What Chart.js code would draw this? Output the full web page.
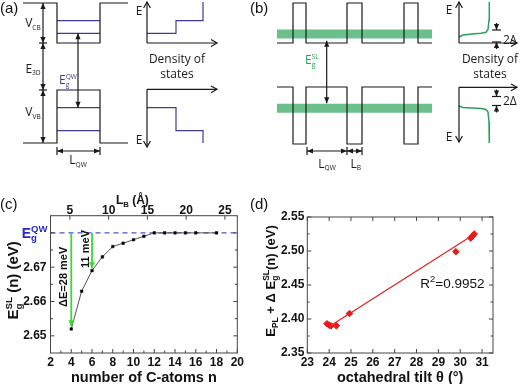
<!DOCTYPE html>
<html>
<head>
<meta charset="utf-8">
<script src="https://cdn.jsdelivr.net/npm/chart.js@4.4.0/dist/chart.umd.min.js"></script>
<style>
html, body { margin: 0; padding: 0; background: #fff; }
#wrap { position: relative; width: 520px; height: 384px; overflow: hidden; }
canvas { position: absolute; }
.lbl { position: absolute; font: 15px "Liberation Sans", Arial, sans-serif; color: #111; z-index: 2; line-height: 16px; }
</style>
</head>
<body>
<div id="wrap">
  <canvas id="schem" width="520" height="190" style="left:0;top:0"></canvas>
  <canvas id="chartC" width="260" height="194" style="left:0;top:190px"></canvas>
  <canvas id="chartD" width="260" height="194" style="left:260px;top:190px"></canvas>
  <div class="lbl" style="left:0;top:0">(a)</div>
  <div class="lbl" style="left:250px;top:0">(b)</div>
  <div class="lbl" style="left:0;top:196px">(c)</div>
  <div class="lbl" style="left:250px;top:196px">(d)</div>
</div>
<script>
// panel (c)
const nAtoms = [4, 5, 6, 7, 8, 9, 10, 11, 12, 13, 14, 15, 16, 18];
const egSL = [2.652, 2.663, 2.669, 2.673, 2.676, 2.677, 2.678, 2.679, 2.680, 2.680, 2.680, 2.680, 2.680, 2.680];
const egQW = 2.680;
const deltaArrows = [[4, 2.6528, 'ΔE=28 meV', 3.25, 2.6672], [6, 2.6697, '11 meV', 5.3, 2.6753]];
const nTicks = [2, 4, 6, 8, 10, 12, 14, 16, 18, 20];
const nMinor = [3, 5, 7, 9, 11, 13, 15, 17, 19];
const lbTicks = [5, 10, 15, 20, 25];
const eTicks = [2.65, 2.66, 2.67];
const eAllTicks = [2.65, 2.66, 2.67, 2.68];

// panel (d)
const tilt = [23.9, 24.0, 24.08, 24.33, 24.93, 29.8, 30.48, 30.57, 30.64];
const ePL = [2.393, 2.391, 2.390, 2.390, 2.408, 2.499, 2.519, 2.522, 2.525];
const fitX = [24.15, 30.66];
const fitY = [2.392, 2.525];
const tiltTicks = [23, 24, 25, 26, 27, 28, 29, 30, 31];
const eplTicks = [2.35, 2.40, 2.45, 2.50, 2.55];

// panels (a) and (b): schematic in picture units
const schemBlack = [
  [[23, 3], [57, 3], [57, 43], [100, 43], [100, 3], [128, 3]],
  [[23, 143], [57, 143], [57, 90], [100, 90], [100, 143], [128, 143]],
  [[39, 43], [47, 43]], [[39, 90], [47, 90]],
  [[57, 147], [57, 155]], [[100, 147], [100, 155]],
  [[277, 43], [293, 43], [293, 3], [306, 3], [306, 43], [347, 43], [347, 3], [362, 3], [362, 43], [404, 43], [404, 3], [418, 3], [418, 43], [432, 43]],
  [[277, 87], [293, 87], [293, 144], [306, 144], [306, 87], [347, 87], [347, 144], [362, 144], [362, 87], [404, 87], [404, 144], [418, 144], [418, 87], [432, 87]],
  [[307, 147], [307, 155]], [[347, 147], [347, 155]], [[362, 147], [362, 155]],
  [[492, 30], [501, 30]], [[492, 42], [501, 42]],
  [[492, 96.5], [501, 96.5]], [[492, 105.5], [501, 105.5]]
];
const schemBlue = [
  [[57, 20.7], [100, 20.7]], [[57, 33.3], [100, 33.3]],
  [[57, 107.7], [100, 107.7]], [[57, 130.7], [100, 130.7]],
  [[147, 33.3], [176, 33.3], [176, 20.7], [203, 20.7], [203, 2]],
  [[147, 107.7], [176, 107.7], [176, 130.7], [203, 130.7], [203, 143]]
];
const schemGreen = [
  [[459, 37], [463, 35], [472, 34], [481, 33.3], [486, 32.3], [488, 29.5], [489, 20], [489.3, 2]],
  [[459, 106], [463, 107.5], [472, 108], [481, 108.5], [486, 109.5], [488, 112], [489, 122], [489.3, 143]]
];
const schemBands = [[277, 432, 34], [277, 432, 108.3]];
// x1, y1, x2, y2, heads, style
const schemArrows = [
  [43, 3, 43, 43, 2], [43, 43, 43, 90, 2], [43, 90, 43, 143, 2],
  [78, 33.3, 78, 107.7, 2],
  [57, 151, 100, 151, 2],
  [147, 43, 147, 2, 1, 'open'], [147, 43, 217, 43, 1, 'open'],
  [147, 89.3, 217, 89.3, 1, 'open'], [147, 89.3, 147, 147, 1, 'open'],
  [326.7, 40.7, 326.7, 103.3, 2],
  [307, 151, 347, 151, 2], [347, 151, 362, 151, 2],
  [459, 43, 459, 2, 1, 'open'], [459, 43, 517, 43, 1, 'open'],
  [459, 87.3, 517, 87.3, 1, 'open'], [459, 87.3, 459, 142, 1, 'open'],
  [496.5, 23, 496.5, 30, 1], [496.5, 49, 496.5, 42, 1],
  [496.5, 89.5, 496.5, 96.5, 1], [496.5, 112.5, 496.5, 105.5, 1]
];
const BLUE = 'rgb(60,60,150)';
const GREEN = 'rgb(40,160,90)';
const schemTexts = [
  { p: [['V', 0], ['CB', 1]], x: 33, y: 22.7 },
  { p: [['E', 0], ['3D', 1]], x: 33, y: 68.3 },
  { p: [['V', 0], ['VB', 1]], x: 33, y: 111.7 },
  { p: [['E', 0], ['g', 3, 'QW']], x: 59, y: 80, a: 'left', c: BLUE },
  { p: [['L', 0], ['QW', 1]], x: 78, y: 160 },
  { p: [['E', 0]], x: 139, y: 11 },
  { p: [['E', 0]], x: 139, y: 140 },
  { p: [['Density of', 0]], x: 177, y: 59 },
  { p: [['states', 0]], x: 177, y: 74 },
  { p: [['E', 0], ['g', 3, 'SL']], x: 305, y: 60, a: 'left', c: GREEN },
  { p: [['L', 0], ['QW', 1]], x: 327, y: 163.5 },
  { p: [['L', 0], ['B', 1]], x: 355.7, y: 163.5 },
  { p: [['E', 0]], x: 449, y: 10 },
  { p: [['E', 0]], x: 449, y: 137 },
  { p: [['Density of', 0]], x: 490, y: 59 },
  { p: [['states', 0]], x: 490, y: 74 },
  { p: [['2Δ', 0]], x: 503, y: 40, a: 'left' },
  { p: [['2Δ', 0]], x: 503, y: 101, a: 'left' }
];

const FONT = '"Liberation Sans", Arial, sans-serif';
const SFONT = '"Open Sans", "Noto Sans", sans-serif';

// text with subscripts / superscripts; kind 0 normal, 1 sub, 2 sup, 3 sub+sup stacked
function drawRich(ctx, parts, x, y, o) {
  const size = o.size;
  const small = size * (o.ratio || 0.62);
  const wt = o.bold ? 'bold ' : '';
  const f = s => wt + s + 'px ' + o.family;
  const ws = [];
  let w = 0;
  parts.forEach(p => {
    let pw;
    if (p[1] === 0) { ctx.font = f(size); pw = ctx.measureText(p[0]).width; }
    else if (p[1] === 3) { ctx.font = f(small); pw = Math.max(ctx.measureText(p[0]).width, ctx.measureText(p[2]).width); }
    else { ctx.font = f(small); pw = ctx.measureText(p[0]).width; }
    ws.push(pw);
    w += pw;
  });
  ctx.save();
  ctx.translate(x, y);
  if (o.rot) ctx.rotate(o.rot);
  ctx.fillStyle = o.color;
  ctx.textAlign = 'left';
  ctx.textBaseline = 'alphabetic';
  let cx = o.align === 'left' ? 0 : o.align === 'right' ? -w : -w / 2;
  const base = size * 0.36;
  parts.forEach((p, i) => {
    if (p[1] === 0) { ctx.font = f(size); ctx.fillText(p[0], cx, base); }
    else if (p[1] === 1) { ctx.font = f(small); ctx.fillText(p[0], cx, base + size * 0.22); }
    else if (p[1] === 2) { ctx.font = f(small); ctx.fillText(p[0], cx, base - size * 0.42); }
    else {
      ctx.font = f(small);
      ctx.fillText(p[0], cx, base + size * 0.22);
      ctx.fillText(p[2], cx, base - size * 0.45);
    }
    cx += ws[i];
  });
  ctx.restore();
}

function drawArrow(ctx, x1, y1, x2, y2, both, open, color, lw, len, hw) {
  len = len || 6; hw = hw || 2.6;
  ctx.save();
  ctx.strokeStyle = color; ctx.fillStyle = color; ctx.lineWidth = lw;
  ctx.beginPath(); ctx.moveTo(x1, y1); ctx.lineTo(x2, y2); ctx.stroke();
  const head = (px, py, a) => {
    const bx = px - len * Math.cos(a), by = py - len * Math.sin(a);
    const h = open ? hw + 0.8 : hw;
    const lx = bx + h * Math.sin(a), ly = by - h * Math.cos(a);
    const rx = bx - h * Math.sin(a), ry = by + h * Math.cos(a);
    ctx.beginPath();
    if (open) { ctx.moveTo(lx, ly); ctx.lineTo(px, py); ctx.lineTo(rx, ry); ctx.stroke(); }
    else { ctx.moveTo(px, py); ctx.lineTo(lx, ly); ctx.lineTo(rx, ry); ctx.closePath(); ctx.fill(); }
  };
  const ang = Math.atan2(y2 - y1, x2 - x1);
  head(x2, y2, ang);
  if (both) head(x1, y1, ang + Math.PI);
  ctx.restore();
}

// ---------- schematic (a) + (b)
const lineSet = (pts, color, width) => ({
  data: pts.map(p => ({ x: p[0], y: p[1] })),
  showLine: true, borderColor: color, borderWidth: width,
  pointRadius: 0, tension: 0, clip: false
});
const schemSets = [];
schemBlack.forEach(s => schemSets.push(lineSet(s, '#1a1a1a', 1.2)));
schemBlue.forEach(s => schemSets.push(lineSet(s, BLUE, 1.2)));
schemGreen.forEach(s => schemSets.push(lineSet(s, GREEN, 1.5)));
schemBands.forEach(b => {
  const ds = lineSet([[b[0], b[2]], [b[1], b[2]]], 'rgba(70,175,110,0.8)', 9);
  ds.borderCapStyle = 'butt';
  schemSets.push(ds);
});

const schemNotes = {
  id: 'schemNotes',
  afterDatasetsDraw(chart) {
    const { ctx, scales: { x, y } } = chart;
    const P = (a, b) => [x.getPixelForValue(a), y.getPixelForValue(b)];
    schemArrows.forEach(a => {
      const [x1, y1] = P(a[0], a[1]);
      const [x2, y2] = P(a[2], a[3]);
      drawArrow(ctx, x1, y1, x2, y2, a[4] === 2, a[5] === 'open', '#1a1a1a', 1.2);
    });
    schemTexts.forEach(t => {
      const [px, py] = P(t.x, t.y);
      drawRich(ctx, t.p, px, py, { size: 12, ratio: 0.55, family: SFONT, color: t.c || '#1a1a1a', align: t.a || 'center' });
    });
  }
};

new Chart(document.getElementById('schem'), {
  type: 'scatter',
  data: { datasets: schemSets },
  options: {
    responsive: false, animation: false,
    layout: { padding: 0 },
    plugins: { legend: { display: false }, tooltip: { enabled: false } },
    scales: {
      x: { type: 'linear', min: 0, max: 520, display: false },
      y: { type: 'linear', min: 0, max: 190, reverse: true, display: false }
    }
  },
  plugins: [schemNotes]
});

// ---------- frame with inward ticks
function framePlugin(sides) {
  return {
    id: 'frame',
    afterDatasetsDraw(chart) {
      const { ctx, chartArea: a } = chart;
      ctx.save();
      ctx.strokeStyle = '#444';
      ctx.lineWidth = 1;
      ctx.strokeRect(a.left, a.top, a.right - a.left, a.bottom - a.top);
      sides.forEach(sd => {
        const sc = chart.scales[sd.scale];
        const draw = (v, len) => {
          const p = sc.getPixelForValue(v);
          ctx.beginPath();
          if (sd.edge === 'bottom') { ctx.moveTo(p, a.bottom); ctx.lineTo(p, a.bottom - len); }
          if (sd.edge === 'top') { ctx.moveTo(p, a.top); ctx.lineTo(p, a.top + len); }
          if (sd.edge === 'left') { ctx.moveTo(a.left, p); ctx.lineTo(a.left + len, p); }
          if (sd.edge === 'right') { ctx.moveTo(a.right, p); ctx.lineTo(a.right - len, p); }
          ctx.stroke();
        };
        sd.major.forEach(v => draw(v, 4));
        (sd.minor || []).forEach(v => draw(v, 2.5));
      });
      ctx.restore();
    }
  };
}
const mids = arr => arr.slice(1).map((v, i) => (v + arr[i]) / 2);

const tickFont = { family: FONT, size: 12, weight: 'bold' };
const axisBase = (extra) => Object.assign({
  type: 'linear',
  grid: { display: false, drawTicks: false },
  border: { display: false },
}, extra);

// ---------- chart (c)
const notesC = {
  id: 'notesC',
  afterDatasetsDraw(chart) {
    const { ctx, chartArea: a, scales: { x, y } } = chart;
    deltaArrows.forEach(d => {
      drawArrow(ctx, x.getPixelForValue(d[0]), y.getPixelForValue(egQW),
        x.getPixelForValue(d[0]), y.getPixelForValue(d[1]), false, false, '#33dd33', 1.8, 6, 3);
      drawRich(ctx, [[d[2], 0]], x.getPixelForValue(d[3]), y.getPixelForValue(d[4]),
        { size: 11, family: FONT, bold: true, color: '#111', rot: -Math.PI / 2 });
    });
    drawRich(ctx, [['E', 0], ['g', 3, 'QW']], a.left - 3, y.getPixelForValue(egQW),
      { size: 14, ratio: 0.68, family: FONT, bold: true, color: 'rgb(40,40,200)', align: 'right' });
    drawRich(ctx, [['E', 0], ['g', 3, 'SL'], [' (n) (eV)', 0]], 13, (a.top + a.bottom) / 2 - 4,
      { size: 15, ratio: 0.65, family: FONT, bold: true, color: '#111', rot: -Math.PI / 2 });
    drawRich(ctx, [['L', 0], ['B', 1], [' (Å)', 0]], x.getPixelForValue(8.3), 10,
      { size: 12, ratio: 0.65, family: FONT, bold: true, color: '#111', align: 'left' });
  }
};

new Chart(document.getElementById('chartC'), {
  type: 'scatter',
  data: {
    datasets: [
      {
        data: nAtoms.map((n, i) => ({ x: n, y: egSL[i] })),
        showLine: true, borderColor: '#555', borderWidth: 1,
        pointStyle: 'rect', pointRadius: 1.8,
        pointBackgroundColor: '#000', pointBorderColor: '#000', pointBorderWidth: 0.5,
        order: 1
      },
      {
        data: [{ x: nTicks[0], y: egQW }, { x: nTicks[nTicks.length - 1], y: egQW }],
        showLine: true, borderColor: 'rgb(80,80,210)', borderWidth: 1.2, borderDash: [5, 4],
        pointRadius: 0, order: 2
      }
    ]
  },
  options: {
    responsive: false, animation: false,
    layout: { padding: { left: 0, right: 22.7, top: 0, bottom: 0 } },
    plugins: { legend: { display: false }, tooltip: { enabled: false } },
    scales: {
      x: axisBase({
        position: 'bottom', min: 2, max: 20,
        afterBuildTicks: s => { s.ticks = nTicks.map(v => ({ value: v })); },
        afterFit: s => { s.height = 31; },
        ticks: { padding: 2, color: '#111', font: tickFont, autoSkip: false, maxRotation: 0 },
        title: { display: true, text: 'number of C-atoms n', color: '#111', font: { family: FONT, size: 14.5, weight: 'bold' }, padding: { top: 0, bottom: -3 } }
      }),
      x2: axisBase({
        position: 'top', min: 2.5, max: 26.6,
        afterBuildTicks: s => { s.ticks = lbTicks.map(v => ({ value: v })); },
        afterFit: s => { s.height = 25.7; },
        ticks: { padding: -2.5, color: '#111', font: tickFont, autoSkip: false, maxRotation: 0 }
      }),
      y: axisBase({
        position: 'left', min: 2.645, max: 2.685,
        afterBuildTicks: s => { s.ticks = eTicks.map(v => ({ value: v })); },
        afterFit: s => { s.width = 50.5; },
        ticks: { padding: 4, color: '#111', font: tickFont, autoSkip: false, callback: v => v.toFixed(2) }
      })
    }
  },
  plugins: [framePlugin([
    { edge: 'bottom', scale: 'x', major: nTicks, minor: nMinor },
    { edge: 'top', scale: 'x2', major: lbTicks },
    { edge: 'left', scale: 'y', major: eAllTicks, minor: mids(eAllTicks) },
    { edge: 'right', scale: 'y', major: eAllTicks, minor: mids(eAllTicks) }
  ]), notesC]
});

// ---------- chart (d)
const notesD = {
  id: 'notesD',
  afterDatasetsDraw(chart) {
    const { ctx, chartArea: a, scales: { x, y } } = chart;
    drawRich(ctx, [['R', 0], ['2', 2], ['=0.9952', 0]], x.getPixelForValue(28.17), y.getPixelForValue(2.4525),
      { size: 13.5, ratio: 0.7, family: FONT, color: '#111', align: 'left' });
    drawRich(ctx, [['E', 0], ['PL', 1], [' + Δ ', 0], ['E', 0], ['g', 3, 'SL'], ['(n) (eV)', 0]], 10, (a.top + a.bottom) / 2 - 4,
      { size: 13, ratio: 0.65, family: FONT, bold: true, color: '#111', rot: -Math.PI / 2 });
  }
};

new Chart(document.getElementById('chartD'), {
  type: 'scatter',
  data: {
    datasets: [
      {
        data: tilt.map((t, i) => ({ x: t, y: ePL[i] })),
        pointStyle: 'rectRot', pointRadius: 3.3,
        pointBackgroundColor: 'rgb(235,25,25)', pointBorderColor: 'rgb(235,25,25)',
        order: 1
      },
      {
        data: fitX.map((t, i) => ({ x: t, y: fitY[i] })),
        showLine: true, borderColor: 'rgb(230,30,30)', borderWidth: 1.2,
        pointRadius: 0, order: 2
      }
    ]
  },
  options: {
    responsive: false, animation: false,
    layout: { padding: { left: 0, right: 27, top: 27, bottom: 0 } },
    plugins: { legend: { display: false }, tooltip: { enabled: false } },
    scales: {
      x: axisBase({
        position: 'bottom', min: 23, max: 31.5,
        afterBuildTicks: s => { s.ticks = tiltTicks.map(v => ({ value: v })); },
        afterFit: s => { s.height = 31; },
        ticks: { padding: 2, color: '#111', font: tickFont, autoSkip: false, maxRotation: 0 },
        title: { display: true, text: 'octahedral tilt θ (°)', color: '#111', font: { family: FONT, size: 14.5, weight: 'bold' }, padding: { top: 0, bottom: -3 } }
      }),
      y: axisBase({
        position: 'left', min: 2.35, max: 2.55,
        afterBuildTicks: s => { s.ticks = eplTicks.map(v => ({ value: v })); },
        afterFit: s => { s.width = 47.3; },
        ticks: { padding: 3, color: '#111', font: tickFont, autoSkip: false, callback: v => v.toFixed(2) }
      })
    }
  },
  plugins: [framePlugin([
    { edge: 'bottom', scale: 'x', major: tiltTicks },
    { edge: 'top', scale: 'x', major: tiltTicks },
    { edge: 'left', scale: 'y', major: eplTicks, minor: mids(eplTicks) },
    { edge: 'right', scale: 'y', major: eplTicks, minor: mids(eplTicks) }
  ]), notesD]
});
</script>
</body>
</html>
